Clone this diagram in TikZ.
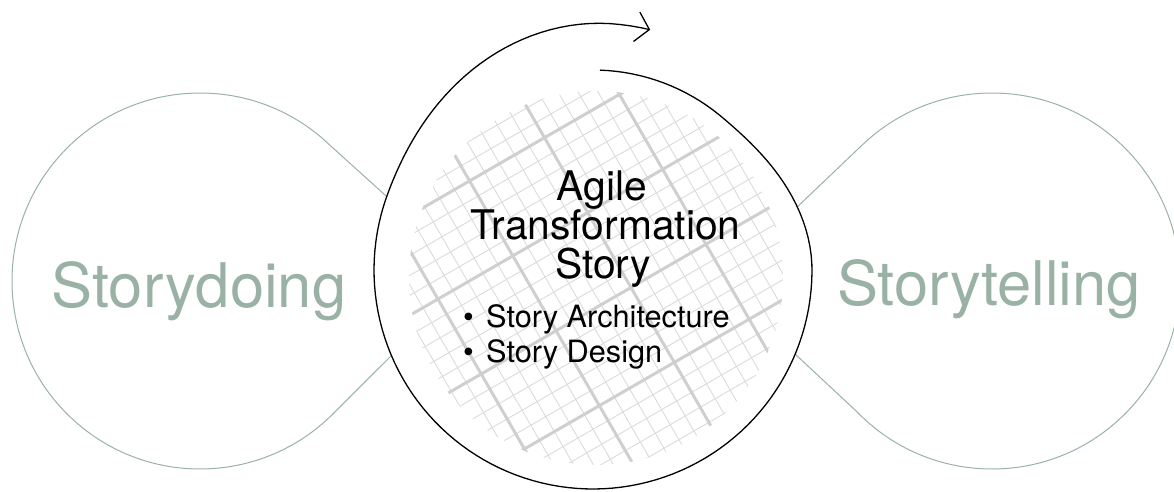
\documentclass[tikz,border=0pt]{standalone}
\usepackage{fontspec}
\setmainfont{TeX Gyre Heros}
\usepackage{xcolor}
\usetikzlibrary{
    arrows.meta,
    calc
}
\definecolor{sage}{HTML}{9AB2A5}
\tikzset{
    side/.style={draw=sage, line width=1pt},
    sidetext/.style={text=sage, font=\fontsize{61.5}{62}\selectfont, inner sep=0pt, anchor=base},
    hubtext/.style={font=\fontsize{40.8}{39}\selectfont, inner sep=0pt, anchor=base},
    itemtext/.style={font=\fontsize{30.7}{35}\selectfont, inner sep=0pt, anchor=base west},
    minorline/.style={draw=black!14, line width=0.9pt},
    majorline/.style={draw=black!19, line width=3pt},
    spiral/.style={draw=black, line width=1.3pt, -{Straight Barb[length=13pt,width=30pt,line width=1.3pt]}}
}

\begin{document}
\begin{tikzpicture}[x=1pt, y=1pt,
        declare function={
            spinA(\t)=min(1,max(0,\t/50));
            spinB(\t)=min(1,max(0,(-200-\t)/75));
            spinR(\t)=219-19*spinA(\t)*spinA(\t)*(3-2*spinA(\t))+28*spinB(\t)*spinB(\t)*(3-2*spinB(\t));
        }]
                                \useasboundingbox (0, 0) rectangle (1174, 491);
                                \coordinate (hub) at (593, 221);
                                \coordinate (doing) at (200, 210);
                                \coordinate (telling) at (992, 210);
                                \begin{scope}
                                    \clip (596, 213) circle[radius=187];
                                    \begin{scope}[shift={(631, 203.5)}, rotate={30}]
                                        \foreach \i in {-13,...,13} {
                                            \draw[minorline] (\i*17.3, -230) -- (\i*17.3, 230);
                                            \draw[minorline] (-230, \i*17.3) -- (230, \i*17.3);
                                        }
                                        \foreach \i in {-2,...,2} {
                                            \draw[majorline] (\i*86.5, -230) -- (\i*86.5, 230);
                                            \draw[majorline] (-230, \i*86.5) -- (230, \i*86.5);
                                        }
                                    \end{scope}
                                \end{scope}
                                \draw[side] ($(hub)+(160.4:219)$) -- ($(doing)+(50:188)$)
                                    arc[start angle=50, end angle=316.3, radius=188] -- ($(hub)+(203:219)$);
                                \draw[side] ($(hub)+(17.2:214)$) -- ($(telling)+(134:188)$)
                                    arc[start angle=134, end angle=-136, radius=188] -- ($(hub)+(-22.6:219)$);
                                \begin{scope}[shift={(hub)}]
                                    \draw[spiral] plot[domain=88:-283.4, samples=160, variable=\t] ({\t}:{spinR(\t)});
                                \end{scope}
                                \node[sidetext] (storydoing) at (199, 184) {Storydoing};
                                \node[sidetext] (storytelling) at (989, 186) {Storytelling};
                                \node[hubtext] (agile) at (602, 291) {Agile};
                                \node[hubtext] (transformation) at (605.5, 252) {Transformation};
                                \node[hubtext] (story) at (603, 213) {Story};
                                \node[itemtext] (architecture) at (463, 164) {\makebox[23pt][l]{•}Story Architecture};
                                \node[itemtext] (design) at (463, 129) {\makebox[23pt][l]{•}Story Design};
                            \end{tikzpicture}
\end{document}
